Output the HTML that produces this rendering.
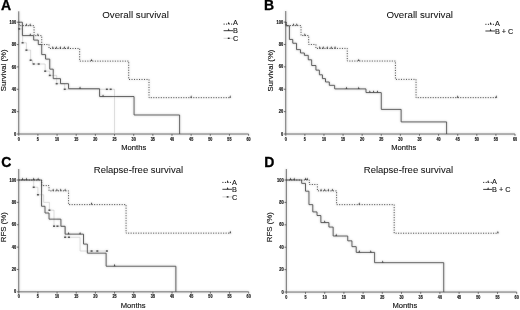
<!DOCTYPE html>
<html><head><meta charset="utf-8"><style>
html,body{margin:0;padding:0;background:#fff;}
body{width:520px;height:310px;overflow:hidden;position:relative;}
svg{position:absolute;left:0;top:0;will-change:transform;}
.tk{font-family:"Liberation Sans", sans-serif;font-size:4.45px;font-weight:bold;fill:#111;stroke:#111;stroke-width:0.15px;}
.ttl{font-family:"Liberation Sans", sans-serif;font-size:9.75px;fill:#111;stroke:#111;stroke-width:0.05px;}
.lab{font-family:"Liberation Sans", sans-serif;font-size:7.6px;fill:#111;stroke:#111;stroke-width:0.14px;}
.leg{font-family:"Liberation Sans", sans-serif;font-size:7.3px;fill:#111;stroke:#111;stroke-width:0.1px;}
.pl{font-family:"Liberation Sans", sans-serif;font-size:14px;font-weight:bold;fill:#000;stroke:#000;stroke-width:0.3px;}
</style></head><body>
<svg width="520" height="310" viewBox="0 0 520 310">
<defs><filter id="bl" x="0" y="0" width="520" height="310" filterUnits="userSpaceOnUse"><feGaussianBlur in="SourceGraphic" stdDeviation="1" result="b"/><feComposite in="SourceGraphic" in2="b" operator="arithmetic" k1="0" k2="0.7" k3="0.300" k4="0"/></filter></defs>
<rect width="520" height="310" fill="#fff"/>
<g filter="url(#bl)">
<path d="M18.75,11.30V134.00H248.60" fill="none" stroke="#363636" stroke-width="0.9"/>
<line x1="16.95" y1="134.00" x2="18.75" y2="134.00" stroke="#3a3a3a" stroke-width="0.9"/>
<line x1="16.95" y1="111.64" x2="18.75" y2="111.64" stroke="#3a3a3a" stroke-width="0.9"/>
<line x1="16.95" y1="89.28" x2="18.75" y2="89.28" stroke="#3a3a3a" stroke-width="0.9"/>
<line x1="16.95" y1="66.92" x2="18.75" y2="66.92" stroke="#3a3a3a" stroke-width="0.9"/>
<line x1="16.95" y1="44.56" x2="18.75" y2="44.56" stroke="#3a3a3a" stroke-width="0.9"/>
<line x1="16.95" y1="22.20" x2="18.75" y2="22.20" stroke="#3a3a3a" stroke-width="0.9"/>
<line x1="18.75" y1="134.00" x2="18.75" y2="135.80" stroke="#3a3a3a" stroke-width="0.9"/>
<line x1="37.90" y1="134.00" x2="37.90" y2="135.80" stroke="#3a3a3a" stroke-width="0.9"/>
<line x1="57.06" y1="134.00" x2="57.06" y2="135.80" stroke="#3a3a3a" stroke-width="0.9"/>
<line x1="76.21" y1="134.00" x2="76.21" y2="135.80" stroke="#3a3a3a" stroke-width="0.9"/>
<line x1="95.37" y1="134.00" x2="95.37" y2="135.80" stroke="#3a3a3a" stroke-width="0.9"/>
<line x1="114.52" y1="134.00" x2="114.52" y2="135.80" stroke="#3a3a3a" stroke-width="0.9"/>
<line x1="133.68" y1="134.00" x2="133.68" y2="135.80" stroke="#3a3a3a" stroke-width="0.9"/>
<line x1="152.83" y1="134.00" x2="152.83" y2="135.80" stroke="#3a3a3a" stroke-width="0.9"/>
<line x1="171.98" y1="134.00" x2="171.98" y2="135.80" stroke="#3a3a3a" stroke-width="0.9"/>
<line x1="191.14" y1="134.00" x2="191.14" y2="135.80" stroke="#3a3a3a" stroke-width="0.9"/>
<line x1="210.29" y1="134.00" x2="210.29" y2="135.80" stroke="#3a3a3a" stroke-width="0.9"/>
<line x1="229.45" y1="134.00" x2="229.45" y2="135.80" stroke="#3a3a3a" stroke-width="0.9"/>
<line x1="248.60" y1="134.00" x2="248.60" y2="135.80" stroke="#3a3a3a" stroke-width="0.9"/>
<path d="M18.75,22.20H19.13V28.91H22.58V42.77H26.41V50.15H30.63V60.21H32.54V64.01H45.18V71.17H49.78V75.42H56.68V83.69H64.72V89.28H114.52V134.00" fill="none" stroke="#aaaaaa" stroke-width="0.5"/>
<rect x="18.13" y="28.16" width="2.0" height="1.5" fill="#2a2a2a"/>
<rect x="21.58" y="42.02" width="2.0" height="1.5" fill="#2a2a2a"/>
<rect x="25.41" y="49.40" width="2.0" height="1.5" fill="#2a2a2a"/>
<rect x="29.63" y="59.46" width="2.0" height="1.5" fill="#2a2a2a"/>
<rect x="32.69" y="63.26" width="2.0" height="1.5" fill="#2a2a2a"/>
<rect x="37.67" y="63.26" width="2.0" height="1.5" fill="#2a2a2a"/>
<rect x="44.18" y="70.42" width="2.0" height="1.5" fill="#2a2a2a"/>
<rect x="48.78" y="74.67" width="2.0" height="1.5" fill="#2a2a2a"/>
<rect x="55.68" y="82.94" width="2.0" height="1.5" fill="#2a2a2a"/>
<rect x="63.72" y="88.53" width="2.0" height="1.5" fill="#2a2a2a"/>
<rect x="105.86" y="88.53" width="2.0" height="1.5" fill="#2a2a2a"/>
<rect x="109.69" y="88.53" width="2.0" height="1.5" fill="#2a2a2a"/>
<path d="M18.75,22.20H19.13V25.67H34.07V35.62H41.73V44.56H49.01V48.47H79.66V61.11H128.69V79.44H149.00V97.66H230.21" fill="none" stroke="#1a1a1a" stroke-width="1.0" stroke-dasharray="1.05 1.45"/>
<path d="M25.51,25.67L26.41,23.27L27.31,25.67Z" fill="#1a1a1a"/>
<path d="M29.23,25.67L30.13,23.27L31.03,25.67Z" fill="#1a1a1a"/>
<path d="M37.00,35.62L37.90,33.22L38.80,35.62Z" fill="#1a1a1a"/>
<path d="M51.94,48.47L52.84,46.07L53.74,48.47Z" fill="#1a1a1a"/>
<path d="M55.39,48.47L56.29,46.07L57.19,48.47Z" fill="#1a1a1a"/>
<path d="M59.41,48.47L60.31,46.07L61.21,48.47Z" fill="#1a1a1a"/>
<path d="M63.44,48.47L64.34,46.07L65.24,48.47Z" fill="#1a1a1a"/>
<path d="M67.27,48.47L68.17,46.07L69.07,48.47Z" fill="#1a1a1a"/>
<path d="M90.64,61.11L91.54,58.71L92.44,61.11Z" fill="#1a1a1a"/>
<path d="M190.24,97.66L191.14,95.26L192.04,97.66Z" fill="#1a1a1a"/>
<path d="M229.31,97.66L230.21,95.26L231.11,97.66Z" fill="#1a1a1a"/>
<path d="M18.75,22.20H22.39V35.62H33.69V40.09H38.29V44.56H41.73V54.62H45.57V59.09H49.78V69.16H53.23V78.66H60.51V83.69H68.55V88.72H99.58V96.55H134.06V114.99H179.64V134.00" fill="none" stroke="#262626" stroke-width="0.9"/>
<path d="M29.34,35.62L30.24,33.22L31.14,35.62Z" fill="#262626"/>
<path d="M79.14,88.72L80.04,86.32L80.94,88.72Z" fill="#262626"/>
<path d="M102.13,96.55L103.03,94.15L103.93,96.55Z" fill="#262626"/>
<path d="M285.75,11.00V134.00H515.00" fill="none" stroke="#363636" stroke-width="0.9"/>
<line x1="283.95" y1="134.00" x2="285.75" y2="134.00" stroke="#3a3a3a" stroke-width="0.9"/>
<line x1="283.95" y1="111.62" x2="285.75" y2="111.62" stroke="#3a3a3a" stroke-width="0.9"/>
<line x1="283.95" y1="89.24" x2="285.75" y2="89.24" stroke="#3a3a3a" stroke-width="0.9"/>
<line x1="283.95" y1="66.86" x2="285.75" y2="66.86" stroke="#3a3a3a" stroke-width="0.9"/>
<line x1="283.95" y1="44.48" x2="285.75" y2="44.48" stroke="#3a3a3a" stroke-width="0.9"/>
<line x1="283.95" y1="22.10" x2="285.75" y2="22.10" stroke="#3a3a3a" stroke-width="0.9"/>
<line x1="285.75" y1="134.00" x2="285.75" y2="135.80" stroke="#3a3a3a" stroke-width="0.9"/>
<line x1="304.85" y1="134.00" x2="304.85" y2="135.80" stroke="#3a3a3a" stroke-width="0.9"/>
<line x1="323.96" y1="134.00" x2="323.96" y2="135.80" stroke="#3a3a3a" stroke-width="0.9"/>
<line x1="343.06" y1="134.00" x2="343.06" y2="135.80" stroke="#3a3a3a" stroke-width="0.9"/>
<line x1="362.17" y1="134.00" x2="362.17" y2="135.80" stroke="#3a3a3a" stroke-width="0.9"/>
<line x1="381.27" y1="134.00" x2="381.27" y2="135.80" stroke="#3a3a3a" stroke-width="0.9"/>
<line x1="400.38" y1="134.00" x2="400.38" y2="135.80" stroke="#3a3a3a" stroke-width="0.9"/>
<line x1="419.48" y1="134.00" x2="419.48" y2="135.80" stroke="#3a3a3a" stroke-width="0.9"/>
<line x1="438.58" y1="134.00" x2="438.58" y2="135.80" stroke="#3a3a3a" stroke-width="0.9"/>
<line x1="457.69" y1="134.00" x2="457.69" y2="135.80" stroke="#3a3a3a" stroke-width="0.9"/>
<line x1="476.79" y1="134.00" x2="476.79" y2="135.80" stroke="#3a3a3a" stroke-width="0.9"/>
<line x1="495.90" y1="134.00" x2="495.90" y2="135.80" stroke="#3a3a3a" stroke-width="0.9"/>
<line x1="515.00" y1="134.00" x2="515.00" y2="135.80" stroke="#3a3a3a" stroke-width="0.9"/>
<path d="M285.75,22.10H286.13V25.57H301.03V35.53H308.68V44.48H315.93V48.40H347.27V61.04H395.41V79.39H416.04V97.63H496.28" fill="none" stroke="#1a1a1a" stroke-width="1.0" stroke-dasharray="1.05 1.45"/>
<path d="M292.61,25.57L293.51,23.17L294.41,25.57Z" fill="#1a1a1a"/>
<path d="M295.93,25.57L296.83,23.17L297.73,25.57Z" fill="#1a1a1a"/>
<path d="M303.95,35.53L304.85,33.13L305.75,35.53Z" fill="#1a1a1a"/>
<path d="M318.86,48.40L319.76,46.00L320.66,48.40Z" fill="#1a1a1a"/>
<path d="M322.29,48.40L323.19,46.00L324.09,48.40Z" fill="#1a1a1a"/>
<path d="M326.31,48.40L327.21,46.00L328.11,48.40Z" fill="#1a1a1a"/>
<path d="M330.32,48.40L331.22,46.00L332.12,48.40Z" fill="#1a1a1a"/>
<path d="M334.14,48.40L335.04,46.00L335.94,48.40Z" fill="#1a1a1a"/>
<path d="M357.83,61.04L358.73,58.64L359.63,61.04Z" fill="#1a1a1a"/>
<path d="M456.79,97.63L457.69,95.23L458.59,97.63Z" fill="#1a1a1a"/>
<path d="M495.38,97.63L496.28,95.23L497.18,97.63Z" fill="#1a1a1a"/>
<path d="M285.75,22.10H286.13V25.79H289.38V39.44H292.78V43.25H296.56V49.63H300.46V52.98H304.36V55.33H308.25V59.81H311.66V65.52H315.93V70.11H319.37V74.80H322.43V78.61H325.49V81.97H329.31V85.32H334.66V88.90H365.99V92.60H381.27V109.38H401.14V121.91H446.61V134.00" fill="none" stroke="#262626" stroke-width="0.9"/>
<path d="M345.60,88.90L346.50,86.50L347.40,88.90Z" fill="#262626"/>
<path d="M357.83,88.90L358.73,86.50L359.63,88.90Z" fill="#262626"/>
<path d="M368.91,92.60L369.81,90.20L370.71,92.60Z" fill="#262626"/>
<path d="M372.73,92.60L373.63,90.20L374.53,92.60Z" fill="#262626"/>
<path d="M376.55,92.60L377.45,90.20L378.35,92.60Z" fill="#262626"/>
<path d="M18.75,169.00V291.85H248.70" fill="none" stroke="#363636" stroke-width="0.9"/>
<line x1="16.95" y1="291.85" x2="18.75" y2="291.85" stroke="#3a3a3a" stroke-width="0.9"/>
<line x1="16.95" y1="269.48" x2="18.75" y2="269.48" stroke="#3a3a3a" stroke-width="0.9"/>
<line x1="16.95" y1="247.11" x2="18.75" y2="247.11" stroke="#3a3a3a" stroke-width="0.9"/>
<line x1="16.95" y1="224.74" x2="18.75" y2="224.74" stroke="#3a3a3a" stroke-width="0.9"/>
<line x1="16.95" y1="202.37" x2="18.75" y2="202.37" stroke="#3a3a3a" stroke-width="0.9"/>
<line x1="16.95" y1="180.00" x2="18.75" y2="180.00" stroke="#3a3a3a" stroke-width="0.9"/>
<line x1="18.75" y1="291.85" x2="18.75" y2="293.65" stroke="#3a3a3a" stroke-width="0.9"/>
<line x1="37.91" y1="291.85" x2="37.91" y2="293.65" stroke="#3a3a3a" stroke-width="0.9"/>
<line x1="57.08" y1="291.85" x2="57.08" y2="293.65" stroke="#3a3a3a" stroke-width="0.9"/>
<line x1="76.24" y1="291.85" x2="76.24" y2="293.65" stroke="#3a3a3a" stroke-width="0.9"/>
<line x1="95.40" y1="291.85" x2="95.40" y2="293.65" stroke="#3a3a3a" stroke-width="0.9"/>
<line x1="114.56" y1="291.85" x2="114.56" y2="293.65" stroke="#3a3a3a" stroke-width="0.9"/>
<line x1="133.72" y1="291.85" x2="133.72" y2="293.65" stroke="#3a3a3a" stroke-width="0.9"/>
<line x1="152.89" y1="291.85" x2="152.89" y2="293.65" stroke="#3a3a3a" stroke-width="0.9"/>
<line x1="172.05" y1="291.85" x2="172.05" y2="293.65" stroke="#3a3a3a" stroke-width="0.9"/>
<line x1="191.21" y1="291.85" x2="191.21" y2="293.65" stroke="#3a3a3a" stroke-width="0.9"/>
<line x1="210.38" y1="291.85" x2="210.38" y2="293.65" stroke="#3a3a3a" stroke-width="0.9"/>
<line x1="229.54" y1="291.85" x2="229.54" y2="293.65" stroke="#3a3a3a" stroke-width="0.9"/>
<line x1="248.70" y1="291.85" x2="248.70" y2="293.65" stroke="#3a3a3a" stroke-width="0.9"/>
<path d="M18.75,180.00H33.70V187.27H37.91V194.76H43.66V202.37H49.41V210.20H54.01V226.19H65.12V237.27H80.07V251.02H106.90" fill="none" stroke="#aaaaaa" stroke-width="0.5"/>
<rect x="32.70" y="186.52" width="2.0" height="1.5" fill="#2a2a2a"/>
<rect x="36.91" y="194.01" width="2.0" height="1.5" fill="#2a2a2a"/>
<rect x="48.41" y="209.45" width="2.0" height="1.5" fill="#2a2a2a"/>
<rect x="53.01" y="225.44" width="2.0" height="1.5" fill="#2a2a2a"/>
<rect x="56.46" y="225.44" width="2.0" height="1.5" fill="#2a2a2a"/>
<rect x="64.12" y="236.52" width="2.0" height="1.5" fill="#2a2a2a"/>
<rect x="67.96" y="236.52" width="2.0" height="1.5" fill="#2a2a2a"/>
<rect x="90.57" y="250.27" width="2.0" height="1.5" fill="#2a2a2a"/>
<rect x="96.32" y="250.27" width="2.0" height="1.5" fill="#2a2a2a"/>
<rect x="105.90" y="250.27" width="2.0" height="1.5" fill="#2a2a2a"/>
<path d="M18.75,180.00H41.74V185.59H49.03V190.85H68.57V204.61H126.06V233.13H230.30" fill="none" stroke="#1a1a1a" stroke-width="1.0" stroke-dasharray="1.05 1.45"/>
<path d="M21.68,180.00L22.58,177.60L23.48,180.00Z" fill="#1a1a1a"/>
<path d="M25.52,180.00L26.41,177.60L27.31,180.00Z" fill="#1a1a1a"/>
<path d="M32.80,180.00L33.70,177.60L34.60,180.00Z" fill="#1a1a1a"/>
<path d="M37.20,180.00L38.10,177.60L39.00,180.00Z" fill="#1a1a1a"/>
<path d="M52.23,190.85L53.13,188.45L54.03,190.85Z" fill="#1a1a1a"/>
<path d="M56.02,190.85L56.92,188.45L57.82,190.85Z" fill="#1a1a1a"/>
<path d="M59.82,190.85L60.72,188.45L61.62,190.85Z" fill="#1a1a1a"/>
<path d="M64.22,190.85L65.12,188.45L66.02,190.85Z" fill="#1a1a1a"/>
<path d="M90.67,204.61L91.57,202.21L92.47,204.61Z" fill="#1a1a1a"/>
<path d="M229.40,233.13L230.30,230.73L231.20,233.13Z" fill="#1a1a1a"/>
<path d="M18.75,180.00H41.55V206.28H45.00V213.00H49.03V219.15H60.91V226.31H65.12V234.14H83.52V244.09H87.35V253.15H106.13V266.24H175.88V291.85" fill="none" stroke="#262626" stroke-width="0.9"/>
<path d="M67.67,234.14L68.57,231.74L69.47,234.14Z" fill="#262626"/>
<path d="M79.17,234.14L80.07,231.74L80.97,234.14Z" fill="#262626"/>
<path d="M113.66,266.24L114.56,263.84L115.46,266.24Z" fill="#262626"/>
<path d="M286.30,169.00V292.05H516.70" fill="none" stroke="#363636" stroke-width="0.9"/>
<line x1="284.50" y1="292.05" x2="286.30" y2="292.05" stroke="#3a3a3a" stroke-width="0.9"/>
<line x1="284.50" y1="269.64" x2="286.30" y2="269.64" stroke="#3a3a3a" stroke-width="0.9"/>
<line x1="284.50" y1="247.23" x2="286.30" y2="247.23" stroke="#3a3a3a" stroke-width="0.9"/>
<line x1="284.50" y1="224.82" x2="286.30" y2="224.82" stroke="#3a3a3a" stroke-width="0.9"/>
<line x1="284.50" y1="202.41" x2="286.30" y2="202.41" stroke="#3a3a3a" stroke-width="0.9"/>
<line x1="284.50" y1="180.00" x2="286.30" y2="180.00" stroke="#3a3a3a" stroke-width="0.9"/>
<line x1="286.30" y1="292.05" x2="286.30" y2="293.85" stroke="#3a3a3a" stroke-width="0.9"/>
<line x1="305.50" y1="292.05" x2="305.50" y2="293.85" stroke="#3a3a3a" stroke-width="0.9"/>
<line x1="324.70" y1="292.05" x2="324.70" y2="293.85" stroke="#3a3a3a" stroke-width="0.9"/>
<line x1="343.90" y1="292.05" x2="343.90" y2="293.85" stroke="#3a3a3a" stroke-width="0.9"/>
<line x1="363.10" y1="292.05" x2="363.10" y2="293.85" stroke="#3a3a3a" stroke-width="0.9"/>
<line x1="382.30" y1="292.05" x2="382.30" y2="293.85" stroke="#3a3a3a" stroke-width="0.9"/>
<line x1="401.50" y1="292.05" x2="401.50" y2="293.85" stroke="#3a3a3a" stroke-width="0.9"/>
<line x1="420.70" y1="292.05" x2="420.70" y2="293.85" stroke="#3a3a3a" stroke-width="0.9"/>
<line x1="439.90" y1="292.05" x2="439.90" y2="293.85" stroke="#3a3a3a" stroke-width="0.9"/>
<line x1="459.10" y1="292.05" x2="459.10" y2="293.85" stroke="#3a3a3a" stroke-width="0.9"/>
<line x1="478.30" y1="292.05" x2="478.30" y2="293.85" stroke="#3a3a3a" stroke-width="0.9"/>
<line x1="497.50" y1="292.05" x2="497.50" y2="293.85" stroke="#3a3a3a" stroke-width="0.9"/>
<line x1="516.70" y1="292.05" x2="516.70" y2="293.85" stroke="#3a3a3a" stroke-width="0.9"/>
<path d="M286.30,180.00H309.34V184.48H317.40V190.87H336.60V204.65H394.20V233.22H497.88" fill="none" stroke="#1a1a1a" stroke-width="1.0" stroke-dasharray="1.05 1.45"/>
<path d="M289.62,180.00L290.52,177.60L291.42,180.00Z" fill="#1a1a1a"/>
<path d="M293.31,180.00L294.21,177.60L295.11,180.00Z" fill="#1a1a1a"/>
<path d="M304.60,180.00L305.50,177.60L306.40,180.00Z" fill="#1a1a1a"/>
<path d="M306.33,180.00L307.23,177.60L308.13,180.00Z" fill="#1a1a1a"/>
<path d="M320.15,190.87L321.05,188.47L321.95,190.87Z" fill="#1a1a1a"/>
<path d="M323.80,190.87L324.70,188.47L325.60,190.87Z" fill="#1a1a1a"/>
<path d="M327.45,190.87L328.35,188.47L329.25,190.87Z" fill="#1a1a1a"/>
<path d="M331.48,190.87L332.38,188.47L333.28,190.87Z" fill="#1a1a1a"/>
<path d="M358.36,204.65L359.26,202.25L360.16,204.65Z" fill="#1a1a1a"/>
<path d="M496.98,233.22L497.88,230.82L498.78,233.22Z" fill="#1a1a1a"/>
<path d="M286.30,180.00H301.66V183.36H305.50V191.20H308.96V204.65H312.80V211.93H317.02V215.52H320.86V222.58H328.92V227.06H333.15V236.03H347.74V240.84H351.96V246.67H356.19V252.38H374.62V262.69H443.74V292.05" fill="none" stroke="#262626" stroke-width="0.9"/>
<path d="M323.80,222.58L324.70,220.18L325.60,222.58Z" fill="#262626"/>
<path d="M335.32,236.03L336.22,233.62L337.12,236.03Z" fill="#262626"/>
<path d="M358.36,252.38L359.26,249.98L360.16,252.38Z" fill="#262626"/>
<path d="M369.88,252.38L370.78,249.98L371.68,252.38Z" fill="#262626"/>
<path d="M381.78,262.69L382.68,260.29L383.58,262.69Z" fill="#262626"/>
</g>
<line x1="223.6" y1="24.1" x2="233.0" y2="24.1" stroke="#1a1a1a" stroke-width="1.0" stroke-dasharray="1.05 1.45"/>
<path d="M227.80,24.10L228.70,21.70L229.60,24.10Z" fill="#1a1a1a"/>
<line x1="223.6" y1="30.7" x2="233.0" y2="30.7" stroke="#262626" stroke-width="0.9"/>
<path d="M227.80,30.70L228.70,28.30L229.60,30.70Z" fill="#262626"/>
<line x1="223.6" y1="38.3" x2="233.0" y2="38.3" stroke="#aaaaaa" stroke-width="0.5"/>
<rect x="227.80" y="37.60" width="1.8" height="1.4" fill="#2a2a2a"/>
<line x1="485.4" y1="24.3" x2="495.0" y2="24.3" stroke="#1a1a1a" stroke-width="1.0" stroke-dasharray="1.05 1.45"/>
<path d="M489.70,24.30L490.60,21.90L491.50,24.30Z" fill="#1a1a1a"/>
<line x1="485.4" y1="31.0" x2="495.0" y2="31.0" stroke="#262626" stroke-width="0.9"/>
<path d="M489.70,31.00L490.60,28.60L491.50,31.00Z" fill="#262626"/>
<line x1="222.4" y1="182.4" x2="232.0" y2="182.4" stroke="#1a1a1a" stroke-width="1.0" stroke-dasharray="1.05 1.45"/>
<path d="M226.70,182.40L227.60,180.00L228.50,182.40Z" fill="#1a1a1a"/>
<line x1="222.4" y1="189.3" x2="232.0" y2="189.3" stroke="#262626" stroke-width="0.9"/>
<path d="M226.70,189.30L227.60,186.90L228.50,189.30Z" fill="#262626"/>
<line x1="222.4" y1="196.9" x2="232.0" y2="196.9" stroke="#aaaaaa" stroke-width="0.5"/>
<rect x="226.70" y="196.20" width="1.8" height="1.4" fill="#2a2a2a"/>
<line x1="483.2" y1="182.4" x2="492.2" y2="182.4" stroke="#1a1a1a" stroke-width="1.0" stroke-dasharray="1.05 1.45"/>
<path d="M487.20,182.40L488.10,180.00L489.00,182.40Z" fill="#1a1a1a"/>
<line x1="483.2" y1="189.4" x2="492.2" y2="189.4" stroke="#262626" stroke-width="0.9"/>
<path d="M487.20,189.40L488.10,187.00L489.00,189.40Z" fill="#262626"/>
<text transform="translate(16.15,135.60) scale(0.9,1)" text-anchor="end" class="tk">0</text>
<text transform="translate(16.15,113.24) scale(0.9,1)" text-anchor="end" class="tk">20</text>
<text transform="translate(16.15,90.88) scale(0.9,1)" text-anchor="end" class="tk">40</text>
<text transform="translate(16.15,68.52) scale(0.9,1)" text-anchor="end" class="tk">60</text>
<text transform="translate(16.15,46.16) scale(0.9,1)" text-anchor="end" class="tk">80</text>
<text transform="translate(16.15,23.80) scale(0.9,1)" text-anchor="end" class="tk">100</text>
<text transform="translate(18.75,140.60) scale(0.84,1)" text-anchor="middle" class="tk">0</text>
<text transform="translate(37.90,140.60) scale(0.84,1)" text-anchor="middle" class="tk">5</text>
<text transform="translate(57.06,140.60) scale(0.84,1)" text-anchor="middle" class="tk">10</text>
<text transform="translate(76.21,140.60) scale(0.84,1)" text-anchor="middle" class="tk">15</text>
<text transform="translate(95.37,140.60) scale(0.84,1)" text-anchor="middle" class="tk">20</text>
<text transform="translate(114.52,140.60) scale(0.84,1)" text-anchor="middle" class="tk">25</text>
<text transform="translate(133.68,140.60) scale(0.84,1)" text-anchor="middle" class="tk">30</text>
<text transform="translate(152.83,140.60) scale(0.84,1)" text-anchor="middle" class="tk">35</text>
<text transform="translate(171.98,140.60) scale(0.84,1)" text-anchor="middle" class="tk">40</text>
<text transform="translate(191.14,140.60) scale(0.84,1)" text-anchor="middle" class="tk">45</text>
<text transform="translate(210.29,140.60) scale(0.84,1)" text-anchor="middle" class="tk">50</text>
<text transform="translate(229.45,140.60) scale(0.84,1)" text-anchor="middle" class="tk">55</text>
<text transform="translate(248.60,140.60) scale(0.84,1)" text-anchor="middle" class="tk">60</text>
<text transform="translate(283.15,135.60) scale(0.9,1)" text-anchor="end" class="tk">0</text>
<text transform="translate(283.15,113.22) scale(0.9,1)" text-anchor="end" class="tk">20</text>
<text transform="translate(283.15,90.84) scale(0.9,1)" text-anchor="end" class="tk">40</text>
<text transform="translate(283.15,68.46) scale(0.9,1)" text-anchor="end" class="tk">60</text>
<text transform="translate(283.15,46.08) scale(0.9,1)" text-anchor="end" class="tk">80</text>
<text transform="translate(283.15,23.70) scale(0.9,1)" text-anchor="end" class="tk">100</text>
<text transform="translate(285.75,140.60) scale(0.84,1)" text-anchor="middle" class="tk">0</text>
<text transform="translate(304.85,140.60) scale(0.84,1)" text-anchor="middle" class="tk">5</text>
<text transform="translate(323.96,140.60) scale(0.84,1)" text-anchor="middle" class="tk">10</text>
<text transform="translate(343.06,140.60) scale(0.84,1)" text-anchor="middle" class="tk">15</text>
<text transform="translate(362.17,140.60) scale(0.84,1)" text-anchor="middle" class="tk">20</text>
<text transform="translate(381.27,140.60) scale(0.84,1)" text-anchor="middle" class="tk">25</text>
<text transform="translate(400.38,140.60) scale(0.84,1)" text-anchor="middle" class="tk">30</text>
<text transform="translate(419.48,140.60) scale(0.84,1)" text-anchor="middle" class="tk">35</text>
<text transform="translate(438.58,140.60) scale(0.84,1)" text-anchor="middle" class="tk">40</text>
<text transform="translate(457.69,140.60) scale(0.84,1)" text-anchor="middle" class="tk">45</text>
<text transform="translate(476.79,140.60) scale(0.84,1)" text-anchor="middle" class="tk">50</text>
<text transform="translate(495.90,140.60) scale(0.84,1)" text-anchor="middle" class="tk">55</text>
<text transform="translate(515.00,140.60) scale(0.84,1)" text-anchor="middle" class="tk">60</text>
<text transform="translate(16.15,293.45) scale(0.9,1)" text-anchor="end" class="tk">0</text>
<text transform="translate(16.15,271.08) scale(0.9,1)" text-anchor="end" class="tk">20</text>
<text transform="translate(16.15,248.71) scale(0.9,1)" text-anchor="end" class="tk">40</text>
<text transform="translate(16.15,226.34) scale(0.9,1)" text-anchor="end" class="tk">60</text>
<text transform="translate(16.15,203.97) scale(0.9,1)" text-anchor="end" class="tk">80</text>
<text transform="translate(16.15,181.60) scale(0.9,1)" text-anchor="end" class="tk">100</text>
<text transform="translate(18.75,298.45) scale(0.84,1)" text-anchor="middle" class="tk">0</text>
<text transform="translate(37.91,298.45) scale(0.84,1)" text-anchor="middle" class="tk">5</text>
<text transform="translate(57.08,298.45) scale(0.84,1)" text-anchor="middle" class="tk">10</text>
<text transform="translate(76.24,298.45) scale(0.84,1)" text-anchor="middle" class="tk">15</text>
<text transform="translate(95.40,298.45) scale(0.84,1)" text-anchor="middle" class="tk">20</text>
<text transform="translate(114.56,298.45) scale(0.84,1)" text-anchor="middle" class="tk">25</text>
<text transform="translate(133.72,298.45) scale(0.84,1)" text-anchor="middle" class="tk">30</text>
<text transform="translate(152.89,298.45) scale(0.84,1)" text-anchor="middle" class="tk">35</text>
<text transform="translate(172.05,298.45) scale(0.84,1)" text-anchor="middle" class="tk">40</text>
<text transform="translate(191.21,298.45) scale(0.84,1)" text-anchor="middle" class="tk">45</text>
<text transform="translate(210.38,298.45) scale(0.84,1)" text-anchor="middle" class="tk">50</text>
<text transform="translate(229.54,298.45) scale(0.84,1)" text-anchor="middle" class="tk">55</text>
<text transform="translate(248.70,298.45) scale(0.84,1)" text-anchor="middle" class="tk">60</text>
<text transform="translate(283.70,293.65) scale(0.9,1)" text-anchor="end" class="tk">0</text>
<text transform="translate(283.70,271.24) scale(0.9,1)" text-anchor="end" class="tk">20</text>
<text transform="translate(283.70,248.83) scale(0.9,1)" text-anchor="end" class="tk">40</text>
<text transform="translate(283.70,226.42) scale(0.9,1)" text-anchor="end" class="tk">60</text>
<text transform="translate(283.70,204.01) scale(0.9,1)" text-anchor="end" class="tk">80</text>
<text transform="translate(283.70,181.60) scale(0.9,1)" text-anchor="end" class="tk">100</text>
<text transform="translate(286.30,298.65) scale(0.84,1)" text-anchor="middle" class="tk">0</text>
<text transform="translate(305.50,298.65) scale(0.84,1)" text-anchor="middle" class="tk">5</text>
<text transform="translate(324.70,298.65) scale(0.84,1)" text-anchor="middle" class="tk">10</text>
<text transform="translate(343.90,298.65) scale(0.84,1)" text-anchor="middle" class="tk">15</text>
<text transform="translate(363.10,298.65) scale(0.84,1)" text-anchor="middle" class="tk">20</text>
<text transform="translate(382.30,298.65) scale(0.84,1)" text-anchor="middle" class="tk">25</text>
<text transform="translate(401.50,298.65) scale(0.84,1)" text-anchor="middle" class="tk">30</text>
<text transform="translate(420.70,298.65) scale(0.84,1)" text-anchor="middle" class="tk">35</text>
<text transform="translate(439.90,298.65) scale(0.84,1)" text-anchor="middle" class="tk">40</text>
<text transform="translate(459.10,298.65) scale(0.84,1)" text-anchor="middle" class="tk">45</text>
<text transform="translate(478.30,298.65) scale(0.84,1)" text-anchor="middle" class="tk">50</text>
<text transform="translate(497.50,298.65) scale(0.84,1)" text-anchor="middle" class="tk">55</text>
<text transform="translate(516.70,298.65) scale(0.84,1)" text-anchor="middle" class="tk">60</text>
<!-- panel letters -->
<text x="1.0" y="10.2" class="pl">A</text>
<text x="264.0" y="10.3" class="pl">B</text>
<text x="1.2" y="167.1" class="pl">C</text>
<text x="264.3" y="167.1" class="pl">D</text>
<!-- titles -->
<text x="102.2" y="18.1" class="ttl">Overall survival</text>
<text x="386.4" y="18.1" class="ttl">Overall survival</text>
<text x="93.8" y="172.5" class="ttl" style="font-size:9.5px">Relapse-free survival</text>
<text x="363.8" y="172.5" class="ttl" style="font-size:9.5px">Relapse-free survival</text>
<!-- x labels -->
<text x="121.3" y="149.8" class="lab">Months</text>
<text x="391.3" y="149.8" class="lab">Months</text>
<text x="120.7" y="307.5" class="lab">Months</text>
<text x="392.4" y="307.5" class="lab">Months</text>
<!-- y labels -->
<text transform="translate(6.4,91.2) rotate(-90)" class="lab" style="font-size:7.75px">Survival (%)</text>
<text transform="translate(273.2,91.4) rotate(-90)" class="lab" style="font-size:7.75px">Survival (%)</text>
<text transform="translate(6.0,242.2) rotate(-90)" class="lab" style="font-size:7.85px">RFS (%)</text>
<text transform="translate(272.3,242.2) rotate(-90)" class="lab" style="font-size:7.85px">RFS (%)</text>
<text x="232.9" y="25.40" class="leg">A</text>
<text x="232.9" y="33.30" class="leg">B</text>
<text x="232.9" y="40.50" class="leg">C</text>
<text x="494.9" y="25.90" class="leg">A</text>
<text x="494.9" y="33.50" class="leg">B + C</text>
<text x="232.0" y="184.70" class="leg">A</text>
<text x="232.0" y="191.70" class="leg">B</text>
<text x="232.0" y="199.60" class="leg">C</text>
<text x="492.0" y="184.40" class="leg">A</text>
<text x="492.0" y="191.80" class="leg">B + C</text>
</svg>
</body></html>
